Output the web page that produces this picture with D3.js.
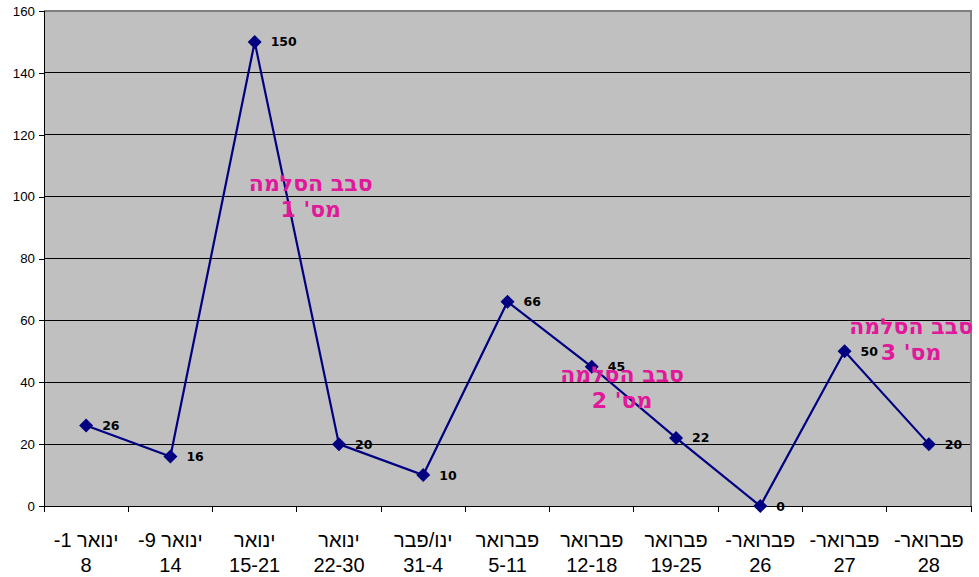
<!DOCTYPE html>
<html><head><meta charset="utf-8">
<script src="https://cdn.jsdelivr.net/npm/d3@7"></script>
<style>body{margin:0;background:#fff}svg{display:block}</style>
</head><body>
<svg id="c" width="979" height="577"></svg>
<script>
const categoriesLine1 = ["ינואר 1-","ינואר 9-","ינואר","ינואר","ינו/פבר","פברואר","פברואר","פברואר","פברואר-","פברואר-","פברואר-"];
const categoriesLine2 = ["8","14","15-21","22-30","31-4","5-11","12-18","19-25","26","27","28"];
const values = [26,16,150,20,10,66,45,22,0,50,20];
const yTicks = [0,20,40,60,80,100,120,140,160];
const annotations = [
  {lines:["סבב הסלמה","מס' 1"], cat:2.665, val:101.8},
  {lines:["סבב הסלמה","מס' 2"], cat:6.36, val:40.1},
  {lines:["סבב הסלמה","מס' 3"], cat:9.79, val:55.6}
];

const svg = d3.select("#c");
const L=44, R=971, T=11, B=506;
const idx = d3.range(values.length);
const x = d3.scaleBand().domain(idx).range([L,R]).padding(0);
const cx = i => x(i) + x.bandwidth()/2;
const xc = v => L + (v+0.5)*x.bandwidth();
const y = d3.scaleLinear().domain([0,160]).range([B,T]);

svg.append("rect").attr("x",L).attr("y",T).attr("width",R-L).attr("height",B-T).attr("fill","#C0C0C0");

// gridlines
svg.append("g").selectAll("line").data(yTicks.filter(d=>d>0)).join("line")
  .attr("x1",L).attr("x2",R).attr("y1",d=>y(d)).attr("y2",d=>y(d))
  .attr("stroke","#000").attr("stroke-width",1).attr("shape-rendering","crispEdges");

// border top/right
svg.append("path").attr("d",`M${L},${T}H${R}V${B}`).attr("fill","none").attr("stroke","#808080").attr("stroke-width",2);

// y axis
const yAxis = d3.axisLeft(y).tickValues(yTicks).tickSize(5).tickPadding(4);
const gy = svg.append("g").attr("transform",`translate(${L},0)`).call(yAxis);
gy.selectAll("path,line").attr("stroke","#000").attr("shape-rendering","crispEdges");
gy.select(".domain").attr("d",`M0,${T}V${B}`);
gy.selectAll("text").attr("font-family","Liberation Sans, Arial, sans-serif").attr("font-size","13.3px").attr("fill","#000");

// x axis
const gx = svg.append("g").attr("transform",`translate(0,${B})`);
gx.append("line").attr("x1",L).attr("x2",R).attr("stroke","#000").attr("shape-rendering","crispEdges");
gx.selectAll("line.t").data(d3.range(values.length+1)).join("line").attr("class","t")
  .attr("x1",i=>L+i*x.bandwidth()).attr("x2",i=>L+i*x.bandwidth()).attr("y1",0).attr("y2",6)
  .attr("stroke","#000").attr("shape-rendering","crispEdges");
const lab = gx.selectAll("g.lab").data(idx).join("g").attr("class","lab");
lab.append("text").attr("x",i=>cx(i)).attr("y",41).attr("text-anchor","middle")
  .attr("direction","rtl").style("direction","rtl").style("unicode-bidi","embed")
  .attr("font-family","Liberation Sans, Arial, sans-serif").attr("font-size","20px").attr("fill","#000")
  .text(i=>categoriesLine1[i]);
lab.append("text").attr("x",i=>cx(i)).attr("y",66).attr("text-anchor","middle")
  .attr("font-family","Liberation Sans, Arial, sans-serif").attr("font-size","20px").attr("fill","#000")
  .text(i=>categoriesLine2[i]);

// line
const line = d3.line().x((d,i)=>cx(i)).y(d=>y(d));
svg.append("path").datum(values).attr("d",line).attr("fill","none").attr("stroke","#000080").attr("stroke-width",2.2);

// markers
svg.append("g").selectAll("path").data(values).join("path")
  .attr("d","M0,-7L7,0L0,7L-7,0Z")
  .attr("transform",(d,i)=>`translate(${cx(i)},${y(d)})`).attr("fill","#000080");

// data labels
svg.append("g").selectAll("text").data(values).join("text")
  .attr("x",(d,i)=>cx(i)+16).attr("y",d=>y(d)).attr("dy","0.36em")
  .attr("font-family","DejaVu Sans, Verdana, sans-serif").attr("font-weight","bold").attr("font-size","12.5px").attr("fill","#000")
  .text(d=>d);

// annotations
const ga = svg.append("g");
annotations.forEach(a=>{
  a.lines.forEach((t,k)=>{
    ga.append("text").attr("x",xc(a.cat)).attr("y",y(a.val)+k*26)
      .attr("text-anchor","middle").attr("direction","rtl").style("direction","rtl").style("unicode-bidi","embed")
      .attr("font-family","DejaVu Sans, sans-serif").attr("font-weight","bold").attr("font-size","22px")
      .attr("fill","#E0189A").text(t);
  });
});
</script>
</body></html>
